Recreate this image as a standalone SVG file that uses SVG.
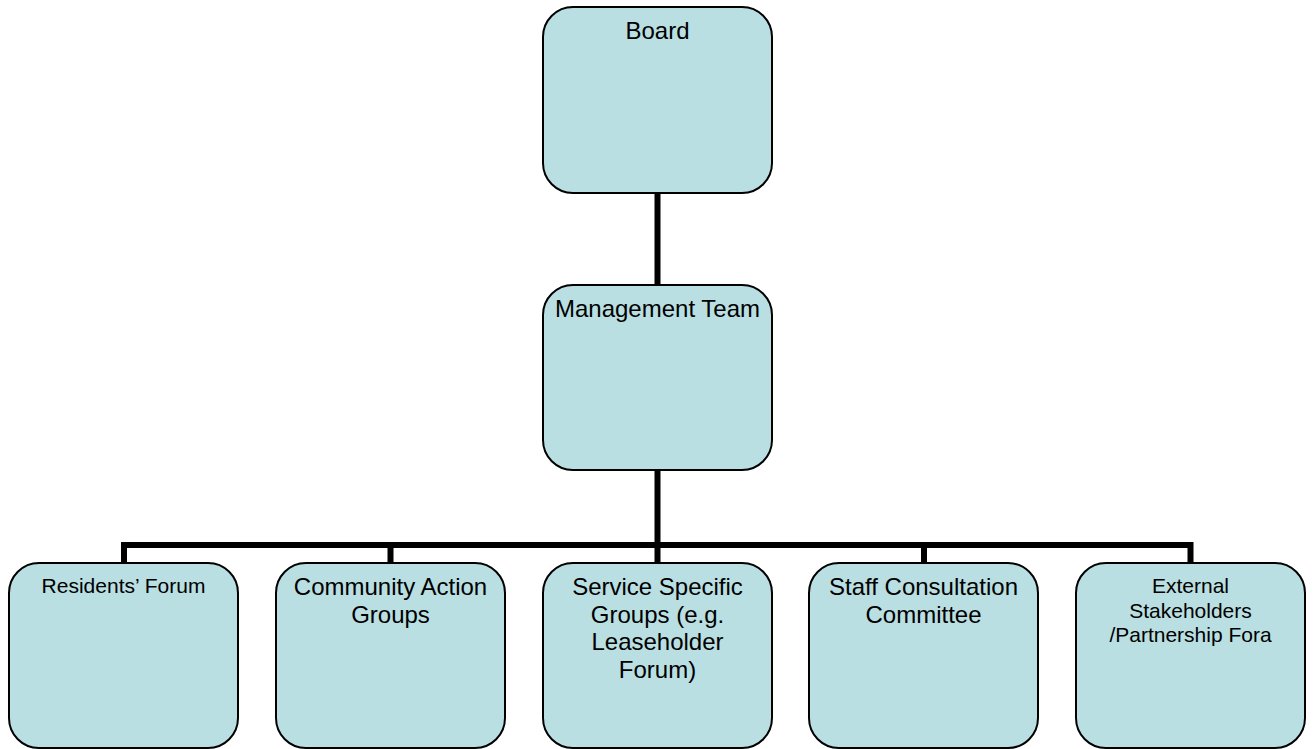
<svg xmlns="http://www.w3.org/2000/svg" width="1313" height="749" viewBox="0 0 1313 749">
<style>
.box{fill:#B9DFE2;stroke:#000;stroke-width:2}
.t{font-family:"Liberation Sans",Arial,sans-serif;font-size:24px;fill:#000;text-anchor:middle}
.s{font-size:21px}
.c{fill:none;stroke:#000;stroke-width:6;stroke-linecap:butt;stroke-linejoin:miter}
</style>
<rect width="1313" height="749" fill="#fff"/>
<g id="connectors">
<path class="c" d="M657.5,192 V285"/>
<path class="c" d="M657.5,470 V545"/>
<path class="c" d="M124,563 V545 H1190.5 V563"/>
<path class="c" d="M390.5,545 V563"/>
<path class="c" d="M657.5,545 V563"/>
<path class="c" d="M924,545 V563"/>
</g>
<g id="board">
<rect class="box" x="543" y="7" width="229" height="186" rx="30" ry="30"/>
<text class="t" x="657.5" y="39">Board</text>
</g>
<g id="management">
<rect class="box" x="543" y="285" width="229" height="185" rx="30" ry="30"/>
<text class="t" x="657.5" y="317">Management Team</text>
</g>
<g id="residents">
<rect class="box" x="9" y="563" width="229" height="185" rx="30" ry="30"/>
<text class="t s" x="123.5" y="593">Residents’ Forum</text>
</g>
<g id="community">
<rect class="box" x="276" y="563" width="229" height="185" rx="30" ry="30"/>
<text class="t" x="390.5" y="595">Community Action<tspan x="390.5" dy="27.7">Groups</tspan></text>
</g>
<g id="service">
<rect class="box" x="543" y="563" width="229" height="185" rx="30" ry="30"/>
<text class="t" x="657.5" y="595">Service Specific<tspan x="657.5" dy="27.7">Groups (e.g.</tspan><tspan x="657.5" dy="27.7">Leaseholder</tspan><tspan x="657.5" dy="27.7">Forum)</tspan></text>
</g>
<g id="staff">
<rect class="box" x="809" y="563" width="229" height="185" rx="30" ry="30"/>
<text class="t" x="923.5" y="595">Staff Consultation<tspan x="923.5" dy="27.7">Committee</tspan></text>
</g>
<g id="external">
<rect class="box" x="1076" y="563" width="229" height="185" rx="30" ry="30"/>
<text class="t s" x="1190.5" y="593">External<tspan x="1190.5" dy="24.5">Stakeholders</tspan><tspan x="1190.5" dy="24.5">/Partnership Fora</tspan></text>
</g>
</svg>
